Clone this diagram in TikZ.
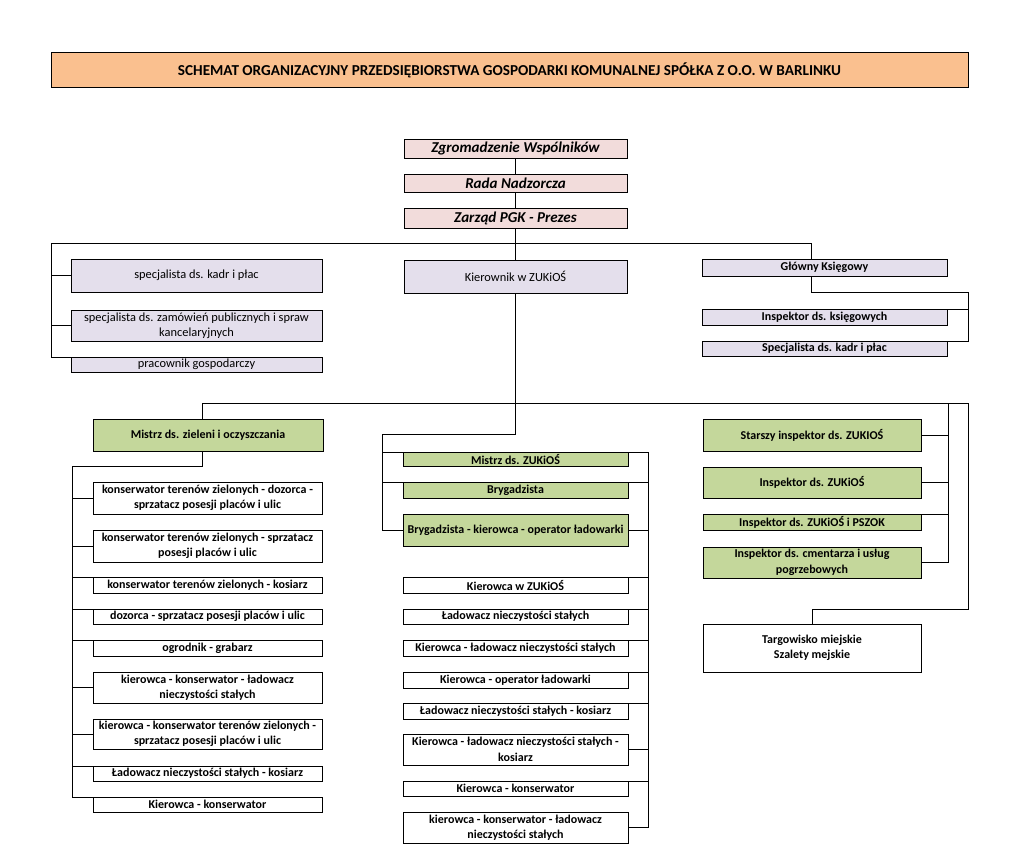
\documentclass[tikz,border=0pt]{standalone}
\usepackage{fontspec}
\setmainfont{Carlito}
\usetikzlibrary{shadows}
\definecolor{peach}{HTML}{FAC08F}
\definecolor{pinkb}{HTML}{F2DCDB}
\definecolor{lav}{HTML}{E4DFEC}
\definecolor{grn}{HTML}{C4D79B}
\tikzset{
  base/.style={draw=black, line width=0.75pt, inner sep=0pt, outer sep=0pt, align=center,
    drop shadow={shadow xshift=0.6pt, shadow yshift=-0.6pt, fill=black, opacity=0.85}},
  titlebox/.style={base, fill=peach, font=\fontsize{11.4}{13}\selectfont\bfseries},
  topbox/.style={base, fill=pinkb, font=\fontsize{11.3}{13}\selectfont\bfseries\itshape},
  lavreg/.style={base, fill=lav, font=\fontsize{9.3}{11.6}\selectfont},
  lavbold/.style={base, fill=lav, font=\fontsize{9}{11.6}\selectfont\bfseries},
  grnbox/.style={base, fill=grn, font=\fontsize{9}{11.6}\selectfont\bfseries},
  whbox/.style={base, fill=white, font=\fontsize{9}{11.6}\selectfont\bfseries},
  conn/.style={draw=black, line width=0.75pt}
}
\newcommand\bx[7]{%
  \pgfmathsetmacro\bxcx{(#3+#5)/2}%
  \pgfmathsetmacro\bxcy{(#4+#6)/2}%
  \pgfmathsetmacro\bxw{(#5-#3)*0.75}%
  \pgfmathsetmacro\bxh{(#6-#4)*0.75}%
  \node[#1, minimum width=\bxw pt, minimum height=\bxh pt] (#2) at (\bxcx,\bxcy) {#7};}
\begin{document}
\begin{tikzpicture}[x=0.75pt,y=-0.75pt]
\useasboundingbox[fill=white] (0,0) rectangle (1009,867);
% title
\bx{titlebox}{title}{51}{53}{968}{87}{SCHEMAT ORGANIZACYJNY PRZEDSIĘBIORSTWA GOSPODARKI KOMUNALNEJ SPÓŁKA Z O.O. W BARLINKU}
% top chain
\bx{topbox}{zg}{404}{139}{627}{158}{Zgromadzenie Wspólników}
\bx{topbox}{rada}{404}{174}{627}{192}{Rada Nadzorcza}
\bx{topbox}{zarz}{404}{208}{627}{228}{Zarząd PGK - Prezes}
% upper level
\bx{lavreg}{spec1}{71}{259}{322}{292}{specjalista ds. kadr i płac}
\bx{lavreg}{spec2}{71}{310}{322}{341}{specjalista ds. zamówień publicznych i spraw\\kancelaryjnych}
\bx{lavreg}{prac}{71}{357}{322}{372}{pracownik gospodarczy}
\bx{lavreg}{kier}{404}{260}{627}{293}{Kierownik w ZUKiOŚ}
\bx{lavbold}{glowny}{702}{259}{947}{276}{Główny Księgowy}
\bx{lavbold}{insp}{702}{309}{947}{325}{Inspektor ds. księgowych}
\bx{lavbold}{spec3}{702}{341}{947}{356}{Specjalista ds. kadr i płac}
% left lower column
\bx{grnbox}{mz}{93}{419}{323}{451}{Mistrz ds. zieleni i oczyszczania}
\bx{whbox}{k1}{93}{482}{322}{514}{konserwator terenów zielonych - dozorca -\\sprzatacz posesji placów i ulic}
\bx{whbox}{k2}{93}{530}{322}{562}{konserwator terenów zielonych - sprzatacz\\posesji placów i ulic}
\bx{whbox}{k3}{93}{577}{322}{593}{konserwator terenów zielonych - kosiarz}
\bx{whbox}{k4}{93}{609}{322}{624}{dozorca - sprzatacz posesji placów i ulic}
\bx{whbox}{k5}{93}{640}{322}{656}{ogrodnik - grabarz}
\bx{whbox}{k6}{93}{672}{322}{703}{kierowca - konserwator - ładowacz\\nieczystości stałych}
\bx{whbox}{k7}{93}{719}{322}{749}{kierowca - konserwator terenów zielonych -\\sprzatacz posesji placów i ulic}
\bx{whbox}{k8}{93}{766}{322}{781}{Ładowacz nieczystości stałych - kosiarz}
\bx{whbox}{k9}{93}{797}{322}{812}{Kierowca - konserwator}
% middle column
\bx{grnbox}{m1}{403}{452}{628}{466}{Mistrz ds. ZUKiOŚ}
\bx{grnbox}{m2}{403}{482}{628}{498}{Brygadzista}
\bx{grnbox}{m3}{403}{514}{628}{546}{Brygadzista - kierowca - operator ładowarki}
\bx{whbox}{m4}{403}{577}{628}{593}{Kierowca w ZUKiOŚ}
\bx{whbox}{m5}{403}{609}{628}{624}{Ładowacz nieczystości stałych}
\bx{whbox}{m6}{403}{640}{628}{656}{Kierowca - ładowacz nieczystości stałych}
\bx{whbox}{m7}{403}{672}{628}{688}{Kierowca - operator ładowarki}
\bx{whbox}{m8}{403}{703}{628}{719}{Ładowacz nieczystości stałych - kosiarz}
\bx{whbox}{m9}{403}{734}{628}{765}{Kierowca - ładowacz nieczystości stałych -\\kosiarz}
\bx{whbox}{m10}{403}{781}{628}{796}{Kierowca - konserwator}
\bx{whbox}{m11}{403}{812}{628}{843}{kierowca - konserwator - ładowacz\\nieczystości stałych}
% right column
\bx{grnbox}{r1}{703}{419}{921}{451}{Starszy inspektor ds. ZUKIOŚ}
\bx{grnbox}{r2}{703}{467}{921}{498}{Inspektor ds. ZUKiOŚ}
\bx{grnbox}{r3}{703}{514}{921}{530}{Inspektor ds. ZUKiOŚ i PSZOK}
\bx{grnbox}{r4}{703}{547}{921}{578}{Inspektor ds. cmentarza i usług\\pogrzebowych}
\bx{whbox}{targ}{703}{624}{921}{672}{Targowisko miejskie\\Szalety mejskie}
% ---------- connectors ----------
\draw[conn] (zg.south) -- (rada.north);
\draw[conn] (rada.south) -- (zarz.north);
\draw[conn] (zarz.south) -- (kier.north);
\coordinate (busL) at (51,243);
\coordinate (busR) at (811,243);
\draw[conn] (busL) -- (busR) -- (busR |- glowny.north);
\draw[conn] (busL) |- (spec1.west);
\draw[conn] (busL) |- (spec2.west);
\draw[conn] (busL) |- (prac.north west);
\coordinate (gj) at (811,292);
\coordinate (gr) at (968,292);
\draw[conn] (glowny.south -| busR) -- (gj) -- (gr) |- (insp.north east);
\draw[conn] (gr) |- (spec3.north east);
% lower bus
\coordinate (lbL) at (202,403);
\coordinate (lbR) at (968,403);
\coordinate (tj) at (968,609);
\draw[conn] (lbL |- mz.north) -- (lbL) -- (lbR) -- (tj) -| (targ.north);
% right green column
\coordinate (gx) at (948,403);
\draw[conn] (gx) |- (r4.east);
\draw[conn] (gx |- r1.east) -- (r1.east);
\draw[conn] (gx |- r2.east) -- (r2.east);
\draw[conn] (gx |- r3.north east) -- (r3.north east);
% middle column
\coordinate (mj) at (382,434);
\draw[conn] (kier.south) -- (kier.south |- mj) -- (mj) |- (m3.west);
\draw[conn] (mj) |- (m1.north west);
\draw[conn] (mj) |- (m2.north west);
\coordinate (mr) at (648,452);
\draw[conn] (m1.north east) -- (mr) |- (m11.east);
\foreach \n in {m2,m4,m5,m6,m7,m8,m10}{\draw[conn] (mr |- \n.north east) -- (\n.north east);}
\foreach \n in {m3,m9}{\draw[conn] (mr |- \n.east) -- (\n.east);}
% left lower column
\coordinate (lj) at (72,466);
\draw[conn] (lbL |- mz.south) |- (lj) |- (k9.north west);
\foreach \n in {k1,k2,k6,k7}{\draw[conn] (lj) |- (\n.west);}
\foreach \n in {k3,k4,k5,k8}{\draw[conn] (lj) |- (\n.north west);}
\end{tikzpicture}
\end{document}
